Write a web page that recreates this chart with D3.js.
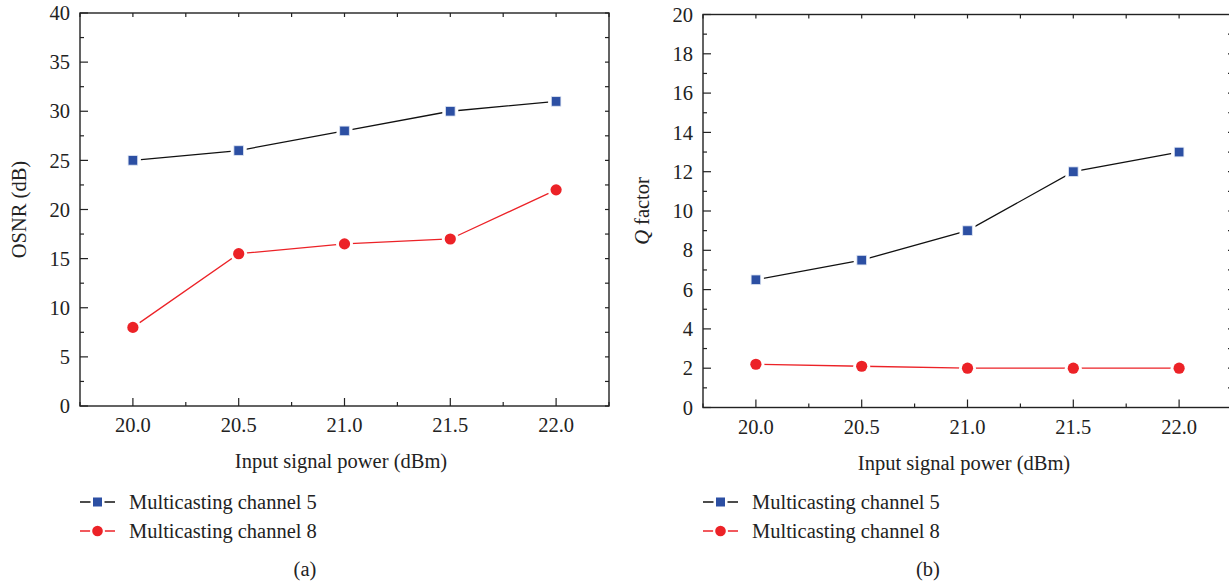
<!DOCTYPE html>
<html><head><meta charset="utf-8">
<script src="https://cdn.jsdelivr.net/npm/d3@7"></script>
<style>
body{margin:0;background:#fff;}
svg{display:block;font-family:"Liberation Serif","DejaVu Serif",serif;}
</style></head>
<body>
<svg id="c" width="1229" height="584"></svg>
<script>
const xValues = [20.0, 20.5, 21.0, 21.5, 22.0];
const xTicks = ["20.0", "20.5", "21.0", "21.5", "22.0"];
const seriesNames = ["Multicasting channel 5", "Multicasting channel 8"];
const osnrCh5 = [25, 26, 28, 30, 31];
const osnrCh8 = [8, 15.5, 16.5, 17, 22];
const qCh5 = [6.5, 7.5, 9, 12, 13];
const qCh8 = [2.2, 2.1, 2.0, 2.0, 2.0];
const osnrTicks = [0, 5, 10, 15, 20, 25, 30, 35, 40];
const qTicks = [0, 2, 4, 6, 8, 10, 12, 14, 16, 18, 20];

const svg = d3.select("#c");
const BLUE = "#2c4fa3", RED = "#ec2227", AX = "#222";
const FS = 20.5;

function panel(cfg) {
  const x = d3.scaleLinear().domain([19.75, 22.25]).range([cfg.left, cfg.right]);
  const y = d3.scaleLinear().domain([0, cfg.ymax]).range([cfg.bottom, cfg.top]);
  const g = svg.append("g");
  g.append("rect").attr("x", cfg.left).attr("y", cfg.top)
    .attr("width", cfg.right - cfg.left).attr("height", cfg.bottom - cfg.top)
    .attr("fill", "none").attr("stroke", AX).attr("stroke-width", 1.4);
  const xMinor = d3.range(19.75, 22.26, 0.25);
  const yMinor = d3.range(0, cfg.ymax + 1e-9, cfg.ystep / 2);
  const tk = g.append("g").attr("stroke", AX).attr("stroke-width", 1.2);
  xMinor.forEach(v => {
    const major = xValues.some(m => Math.abs(m - v) < 1e-6);
    tk.append("line").attr("x1", x(v)).attr("x2", x(v))
      .attr("y1", cfg.bottom).attr("y2", cfg.bottom - (major ? 8 : 4));
    tk.append("line").attr("x1", x(v)).attr("x2", x(v))
      .attr("y1", cfg.top).attr("y2", cfg.top + 4);
  });
  yMinor.forEach(v => {
    const major = Math.abs(v / cfg.ystep - Math.round(v / cfg.ystep)) < 1e-6;
    tk.append("line").attr("x1", cfg.left).attr("x2", cfg.left + (major ? 8 : 4))
      .attr("y1", y(v)).attr("y2", y(v));
    tk.append("line").attr("x1", cfg.right).attr("x2", cfg.right - 4)
      .attr("y1", y(v)).attr("y2", y(v));
  });
  g.selectAll(".yl").data(cfg.yticks).enter().append("text")
    .attr("x", cfg.left - 10).attr("y", d => y(d)).attr("dy", "0.35em")
    .attr("text-anchor", "end").attr("font-size", FS).attr("fill", "#222").text(d => d);
  g.selectAll(".xl").data(xValues).enter().append("text")
    .attr("x", d => x(d)).attr("y", cfg.bottom + 26)
    .attr("text-anchor", "middle").attr("font-size", FS).attr("fill", "#222")
    .text((d, i) => xTicks[i]);
  g.append("text").attr("x", cfg.xtitleX).attr("y", cfg.bottom + 62)
    .attr("text-anchor", "middle").attr("font-size", FS).attr("fill", "#222")
    .text("Input signal power (dBm)");
  const yt = g.append("text")
    .attr("transform", `translate(${cfg.ytitleX},${(cfg.top + cfg.bottom) / 2}) rotate(-90)`)
    .attr("text-anchor", "middle").attr("font-size", FS).attr("fill", "#222");
  if (cfg.italicQ) {
    yt.append("tspan").attr("font-style", "italic").text("Q");
    yt.append("tspan").text(" factor");
  } else yt.text(cfg.ytitle);

  const line = d3.line().x((d, i) => x(xValues[i])).y(d => y(d));
  const plot = g.append("g");
  const series = [{v: cfg.s1, lc: "#111", mc: BLUE, shape: "sq"},
                  {v: cfg.s2, lc: RED, mc: RED, shape: "ci"}];
  series.forEach(s => {
    plot.append("path").attr("d", line(s.v)).attr("fill", "none")
      .attr("stroke", s.lc).attr("stroke-width", 1.3);
  });
  series.forEach(s => {
    s.v.forEach((d, i) => {
      const cx = x(xValues[i]), cy = y(d);
      if (s.shape === "sq") {
        plot.append("rect").attr("x", cx - 8).attr("y", cy - 8).attr("width", 16).attr("height", 16).attr("fill", "#fff");
        plot.append("rect").attr("x", cx - 4.8).attr("y", cy - 4.8).attr("width", 9.6).attr("height", 9.6)
          .attr("fill", s.mc).attr("stroke", "#dfe6f3").attr("stroke-width", 0.8);
      } else {
        plot.append("circle").attr("cx", cx).attr("cy", cy).attr("r", 8.5).attr("fill", "#fff");
        plot.append("circle").attr("cx", cx).attr("cy", cy).attr("r", 5.6).attr("fill", s.mc);
      }
    });
  });
  const lg = g.append("g");
  series.forEach((s, i) => {
    const ly = cfg.legY + i * 29;
    lg.append("line").attr("x1", cfg.legX).attr("x2", cfg.legX + 35)
      .attr("y1", ly).attr("y2", ly).attr("stroke", s.lc).attr("stroke-width", 1.3);
    const mx = cfg.legX + 17.5;
    if (s.shape === "sq") {
      lg.append("rect").attr("x", mx - 7).attr("y", ly - 7).attr("width", 14).attr("height", 14).attr("fill", "#fff");
      lg.append("rect").attr("x", mx - 4.5).attr("y", ly - 4.5).attr("width", 9).attr("height", 9).attr("fill", s.mc);
    } else {
      lg.append("circle").attr("cx", mx).attr("cy", ly).attr("r", 7.5).attr("fill", "#fff");
      lg.append("circle").attr("cx", mx).attr("cy", ly).attr("r", 5.3).attr("fill", s.mc);
    }
    lg.append("text").attr("x", cfg.legX + 49).attr("y", ly).attr("dy", "0.35em")
      .attr("font-size", FS).attr("fill", "#222").text(seriesNames[i]);
  });
  g.append("text").attr("x", cfg.capX).attr("y", 576).attr("text-anchor", "middle")
    .attr("font-size", FS).attr("fill", "#222").text(cfg.cap);
}

panel({left: 80, right: 609, top: 13, bottom: 406, ymax: 40, ystep: 5, yticks: osnrTicks,
  s1: osnrCh5, s2: osnrCh8, ytitle: "OSNR (dB)", ytitleX: 26, xtitleX: 341,
  legX: 80, legY: 502, capX: 305, cap: "(a)"});
panel({left: 703, right: 1232, top: 14.5, bottom: 407.5, ymax: 20, ystep: 2, yticks: qTicks,
  s1: qCh5, s2: qCh8, italicQ: true, ytitleX: 649, xtitleX: 964,
  legX: 703, legY: 502, capX: 928, cap: "(b)"});
</script>
</body></html>
